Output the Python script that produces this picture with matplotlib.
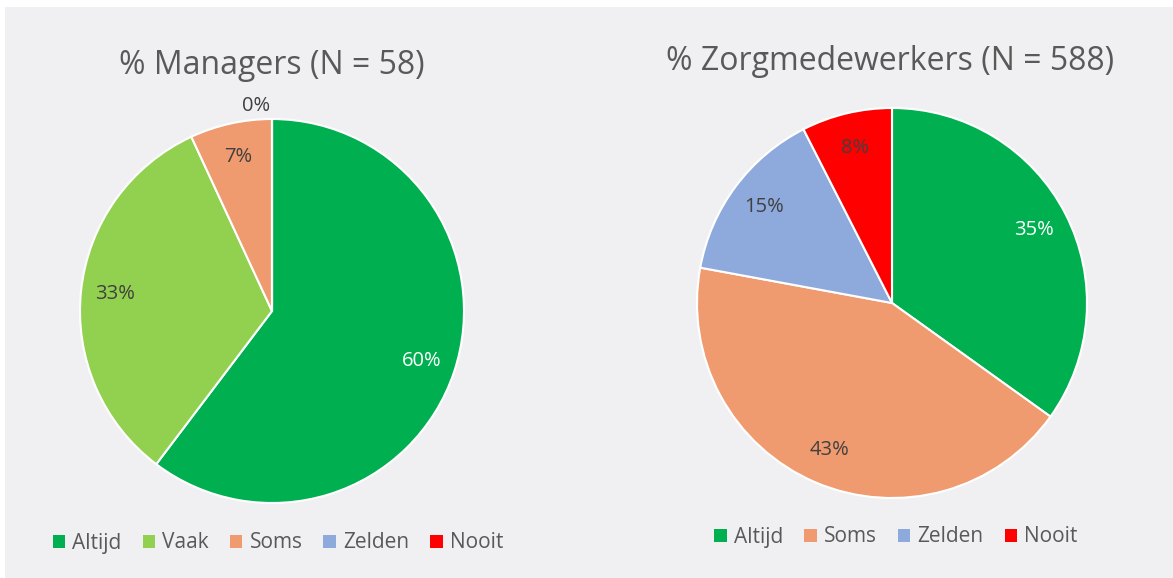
import matplotlib.pyplot as plt
from matplotlib.patches import Rectangle, Patch

plt.rcParams['font.family'] = ['Open Sans', 'DejaVu Sans']

# data
left_title = '% Managers (N = 58)'
left_cats = ['Altijd', 'Vaak', 'Soms', 'Zelden', 'Nooit']
left_vals = [60.3, 32.8, 6.9, 0.0, 0.0]

right_title = '% Zorgmedewerkers (N = 588)'
right_cats = ['Altijd', 'Soms', 'Zelden', 'Nooit']
right_vals = [34.9, 43.0, 14.6, 7.5]

colors = {'Altijd': '#00B050', 'Vaak': '#92D050', 'Soms': '#F09A6F',
          'Zelden': '#8EA9DB', 'Nooit': '#FF0000'}
txt = '#595959'

W, H = 1173, 578
fig = plt.figure(figsize=(W / 100, H / 100), dpi=100)
fig.patches.append(Rectangle((5 / W, 0), 1, 1 - 7 / H, transform=fig.transFigure,
                             facecolor='#F0F0F2', edgecolor='none', zorder=-1))


def px_axes(cx, cy, r):
    return fig.add_axes([(cx - r) / W, (H - cy - r) / H, 2 * r / W, 2 * r / H])


def draw_pie(ax, cats, vals, title, tx, ty, ly):
    wedges, _, autotexts = ax.pie(
        vals, colors=[colors[c] for c in cats], startangle=90, counterclock=False,
        autopct='%.0f%%', pctdistance=0.82,
        wedgeprops=dict(edgecolor='white', linewidth=1.5),
        textprops=dict(fontsize=14.5, color='#404040'))
    zero_done = False
    for c, w, t in zip(cats, wedges, autotexts):
        if c == 'Altijd':
            t.set_color('white')
        if w.theta2 - w.theta1 < 0.01:
            if zero_done:
                t.set_visible(False)
            t.set_position((-0.01, 1.07))
            t.set_ha('right')
            zero_done = True
    ax.set_xlim(-1, 1)
    ax.set_ylim(-1, 1)
    ax.set_aspect('equal')
    ax.axis('off')
    fig.text(tx / W, 1 - ty / H, title, ha='center', va='center', fontsize=23, color=txt)
    handles = [Patch(facecolor=colors[c], edgecolor='none') for c in cats]
    fig.legend(handles, cats, loc='center', bbox_to_anchor=((tx + 6) / W, 1 - ly / H), ncol=len(cats),
               frameon=False, fontsize=15, labelcolor=txt, handlelength=0.6, handleheight=0.6,
               handletextpad=0.35, columnspacing=1.0)


draw_pie(px_axes(272, 311, 192), left_cats, left_vals, left_title, 272, 65, 543)
draw_pie(px_axes(892, 303, 195), right_cats, right_vals, right_title, 890, 62, 537)

fig.savefig('out.png', dpi=100)
